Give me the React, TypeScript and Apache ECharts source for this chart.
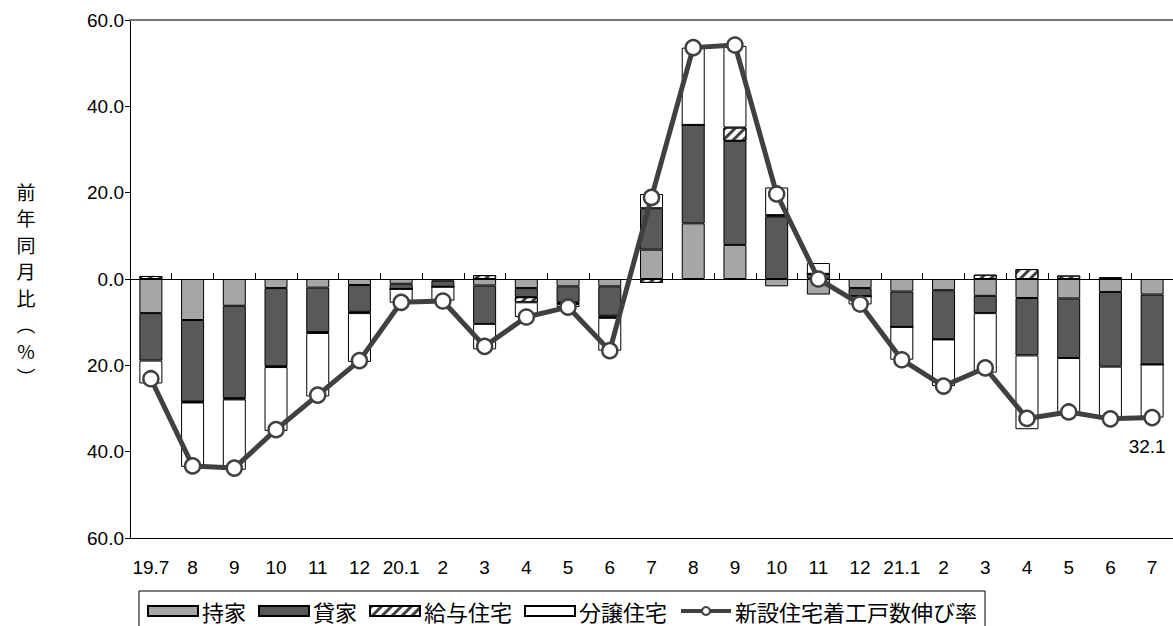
import React, { useEffect, useRef } from 'react';
import * as echarts from 'echarts';

const categories = ['19.7', '8', '9', '10', '11', '12', '20.1', '2', '3', '4', '5', '6', '7', '8', '9', '10', '11', '12', '21.1', '2', '3', '4', '5', '6', '7'];

// 持家
const ownHouse = [-7.9, -9.5, -6.2, -2.1, -2.0, -1.4, -1.1, -0.4, -1.5, -2.1, -1.7, -1.7, 6.8, 12.9, 7.9, -1.7, -3.6, -2.1, -2.9, -2.6, -3.9, -4.4, -4.5, -3.0, -3.6];
// 貸家
const rentHouse = [-11.0, -18.9, -21.4, -18.1, -10.3, -6.2, -1.2, -1.4, -8.9, -2.1, -3.7, -6.8, 9.6, 22.8, 24.1, 14.5, 1.2, -1.9, -8.2, -11.4, -4.0, -13.3, -13.8, -17.3, -16.2];
// 給与住宅
const issuedHouse = [0.7, -0.2, -0.3, -0.2, -0.2, -0.3, 0, 0, 0.9, -1.2, -0.4, -0.5, -0.9, 0, 3.1, 0.3, 0, 0, 0, 0, 1.0, 2.3, 0.8, 0.4, 0];
// 分譲住宅
const condoHouse = [-5.3, -14.9, -16.3, -14.8, -14.7, -11.3, -3.2, -3.2, -5.9, -3.4, -0.7, -7.6, 3.3, 17.9, 18.9, 6.4, 2.5, -1.9, -7.6, -10.8, -13.8, -17.1, -12.7, -12.2, -12.3];
// 新設住宅着工戸数伸び率
const totalGrowth = [-23.1, -43.3, -43.8, -34.9, -26.9, -18.9, -5.4, -5.1, -15.6, -8.8, -6.5, -16.6, 18.9, 53.6, 54.2, 19.7, 0.0, -5.8, -18.7, -24.8, -20.6, -32.3, -30.8, -32.4, -32.1];

const seriesNames = ['持家', '貸家', '給与住宅', '分譲住宅', '新設住宅着工戸数伸び率'];
const yMin = -60;
const yMax = 60;
const yInterval = 20;

const numFont = '"Liberation Sans", Arial, sans-serif';
const cjkFont = '"Noto Sans CJK JP", "Noto Sans", sans-serif';

export default function App() {
  const ref = useRef<HTMLDivElement>(null);

  useEffect(() => {
    if (!ref.current) return;
    const chart = echarts.init(ref.current, null, { renderer: 'svg' });
    const last = totalGrowth.length - 1;
    const barBase = {
      type: 'bar' as const,
      stack: 'total',
      barWidth: 23,
      xAxisIndex: 0,
      yAxisIndex: 0,
    };
    const option: any = {
      animation: false,
      backgroundColor: '#fff',
      grid: { left: 130, top: 20, right: -8, bottom: 88, containLabel: false },
      graphic: [
        {
          type: 'text',
          x: 26,
          y: 178,
          style: {
            text: '前\n年\n同\n月\n比\n︵\n%\n︶',
            font: `19px ${cjkFont}`,
            lineHeight: 26.5,
            textAlign: 'center',
            textVerticalAlign: 'top',
            fill: '#000',
          },
        },
      ],
      legend: {
        left: 139,
        top: 591,
        orient: 'horizontal',
        borderColor: '#000',
        borderWidth: 1,
        padding: [9, 8, 20, 8],
        itemGap: 12,
        itemWidth: 50,
        itemHeight: 10,
        textStyle: { fontSize: 22, fontFamily: cjkFont, color: '#000', padding: [0, 0, 0, -1] },
        data: [
          { name: seriesNames[0], icon: 'rect' },
          { name: seriesNames[1], icon: 'rect' },
          { name: seriesNames[2], icon: 'rect' },
          { name: seriesNames[3], icon: 'rect' },
          {
            name: seriesNames[4],
            lineStyle: { width: 4, color: '#404040' },
            itemStyle: { color: '#ffffff', borderColor: '#404040', borderWidth: 2 },
          },
        ],
      },
      xAxis: [
        {
          type: 'category',
          data: categories,
          position: 'bottom',
          boundaryGap: true,
          axisLine: { show: true, onZero: true, lineStyle: { color: '#000', width: 1 } },
          axisTick: { show: true, inside: true, length: 6, lineStyle: { color: '#000' } },
          axisLabel: { show: false },
          splitLine: { show: false },
        },
        {
          type: 'category',
          data: categories,
          position: 'bottom',
          axisLine: { show: true, onZero: false, lineStyle: { color: '#000', width: 1 } },
          axisTick: { show: false },
          axisLabel: { show: true, interval: 0, margin: 20, fontSize: 19, fontFamily: numFont, color: '#000' },
          splitLine: { show: false },
        },
        {
          type: 'category',
          data: categories,
          position: 'top',
          axisLine: { show: true, onZero: false, lineStyle: { color: '#777', width: 2 } },
          axisTick: { show: false },
          axisLabel: { show: false },
          splitLine: { show: false },
        },
      ],
      yAxis: {
        type: 'value',
        min: yMin,
        max: yMax,
        interval: yInterval,
        axisLine: { show: true, lineStyle: { color: '#000', width: 1 } },
        axisTick: { show: true, inside: false, length: 5, lineStyle: { color: '#000' } },
        axisLabel: {
          fontSize: 19,
          fontFamily: numFont,
          color: '#000',
          margin: 6,
          formatter: (v: number) => Math.abs(v).toFixed(1),
        },
        splitLine: { show: false },
      },
      series: [
        {
          ...barBase,
          name: seriesNames[0],
          data: ownHouse,
          itemStyle: { color: '#a6a6a6', borderColor: '#000', borderWidth: 1 },
        },
        {
          ...barBase,
          name: seriesNames[1],
          data: rentHouse,
          itemStyle: { color: '#595959', borderColor: '#000', borderWidth: 1 },
        },
        {
          ...barBase,
          name: seriesNames[2],
          data: issuedHouse,
          itemStyle: {
            color: '#ffffff',
            borderColor: '#000',
            borderWidth: 1,
            decal: {
              symbol: 'rect',
              symbolSize: 1,
              dashArrayX: [1, 0],
              dashArrayY: [3, 4],
              rotation: -Math.PI / 4,
              color: '#404040',
            },
          },
        },
        {
          ...barBase,
          name: seriesNames[3],
          data: condoHouse,
          itemStyle: { color: '#ffffff', borderColor: '#000', borderWidth: 1 },
        },
        {
          type: 'line',
          name: seriesNames[4],
          xAxisIndex: 0,
          yAxisIndex: 0,
          z: 5,
          symbol: 'circle',
          symbolSize: 15,
          lineStyle: { color: '#404040', width: 5 },
          itemStyle: { color: '#ffffff', borderColor: '#404040', borderWidth: 2.5 },
          data: totalGrowth.map((v, i) =>
            i === last
              ? {
                  value: v,
                  label: {
                    show: true,
                    position: 'bottom',
                    distance: 11,
                    offset: [-5, 0],
                    fontSize: 19,
                    fontFamily: numFont,
                    color: '#000',
                    formatter: () => Math.abs(v).toFixed(1),
                  },
                }
              : v
          ),
        },
      ],
    };
    chart.setOption(option);
    return () => chart.dispose();
  }, []);

  return (
    <div
      ref={ref}
      style={{ position: 'fixed', left: 0, top: 0, width: 1173, height: 626, background: '#fff' }}
    />
  );
}
